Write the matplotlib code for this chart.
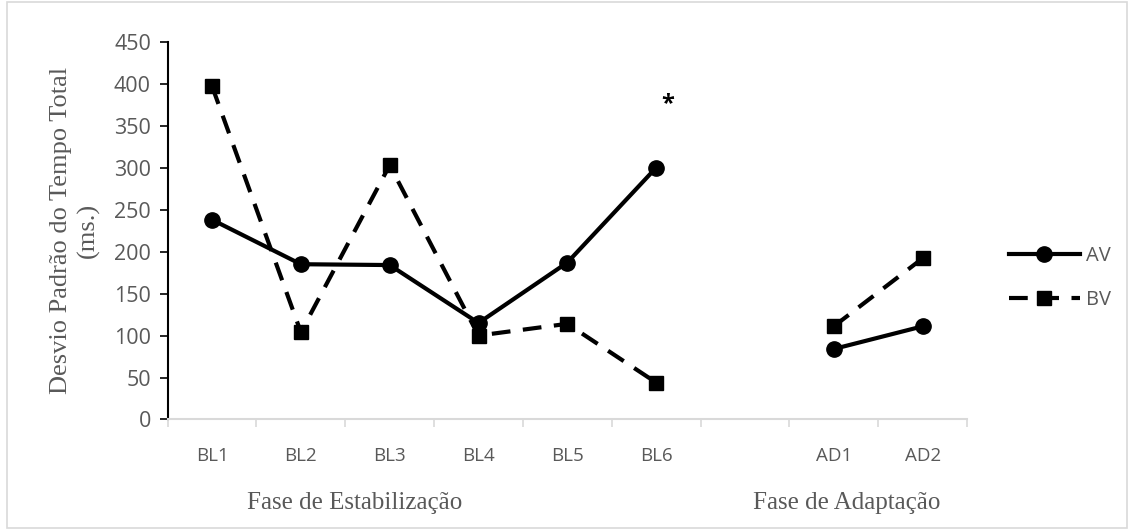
import numpy as np
import matplotlib.pyplot as plt
from matplotlib.patches import Rectangle
from matplotlib.ticker import FixedLocator

plt.rcParams['font.family'] = ['Open Sans', 'DejaVu Sans']

# Data (empty slot separates the two phases)
categories = ['BL1', 'BL2', 'BL3', 'BL4', 'BL5', 'BL6', '', 'AD1', 'AD2']
av_values = [238, 185, 184, 115, 187, 300, np.nan, 84, 111]
bv_values = [397, 104, 303, 100, 114, 44, np.nan, 111, 192]
star_category = 'BL6'
star_value = 376
phase_labels = ['Fase de Estabilização', 'Fase de Adaptação']
phase_centers = [1.6, 7.14]

grey_text = '#595959'
x = np.arange(len(categories))

fig = plt.figure(figsize=(11.29, 5.29), dpi=100)
# light chart-area border
fig.patches.append(Rectangle((7 / 1129, 1 / 529), 1120 / 1129, 526 / 529,
                             transform=fig.transFigure, fill=False,
                             edgecolor='#d9d9d9', linewidth=1.2))
ax = fig.add_axes([0.1485, 0.207, 0.708, 0.714])

ax.plot(x, av_values, '-', color='black', linewidth=3.0,
        marker='o', markersize=11, label='AV')
ax.plot(x, bv_values, color='black', linewidth=3.0, dashes=(4.5, 3.0),
        marker='s', markersize=10, label='BV')

ax.text(categories.index(star_category) + 0.13, star_value, '*',
        ha='center', va='center', fontsize=17, fontweight='bold', color='black')

ax.set_xlim(-0.5, len(categories) - 0.5)
ax.set_ylim(0, 450)
ax.set_yticks(np.arange(0, 451, 50))

ax.set_xticks(x)
ax.set_xticklabels(categories, fontsize=13.5, color=grey_text)
ax.xaxis.set_minor_locator(FixedLocator(np.arange(-0.5, len(categories), 1)))
ax.tick_params(axis='x', which='major', length=0, pad=20)
ax.tick_params(axis='x', which='minor', length=6, width=1.2, color='#d9d9d9', direction='out')
ax.tick_params(axis='y', length=6, width=1.2, color='black', labelsize=15.5,
               labelcolor=grey_text, pad=6)

for s in ['top', 'right']:
    ax.spines[s].set_visible(False)
ax.spines['left'].set_linewidth(1.5)
ax.spines['bottom'].set_color('#d9d9d9')
ax.spines['bottom'].set_linewidth(1.5)

ax.set_ylabel('Desvio Padrão do Tempo Total\n(ms.)', family='Liberation Serif',
              fontsize=19, color=grey_text, labelpad=10, linespacing=1.3)

for lbl, cx in zip(phase_labels, phase_centers):
    ax.text(cx, -0.22, lbl, transform=ax.get_xaxis_transform(),
            ha='center', va='center', fontsize=18, color=grey_text,
            family='Liberation Serif')

leg = ax.legend(loc='center left', bbox_to_anchor=(1.03, 0.375), frameon=False,
                fontsize=14.5, handlelength=3.5, labelspacing=1.2,
                handletextpad=0.3)
for t in leg.get_texts():
    t.set_color(grey_text)

fig.savefig('out.png', dpi=100)
